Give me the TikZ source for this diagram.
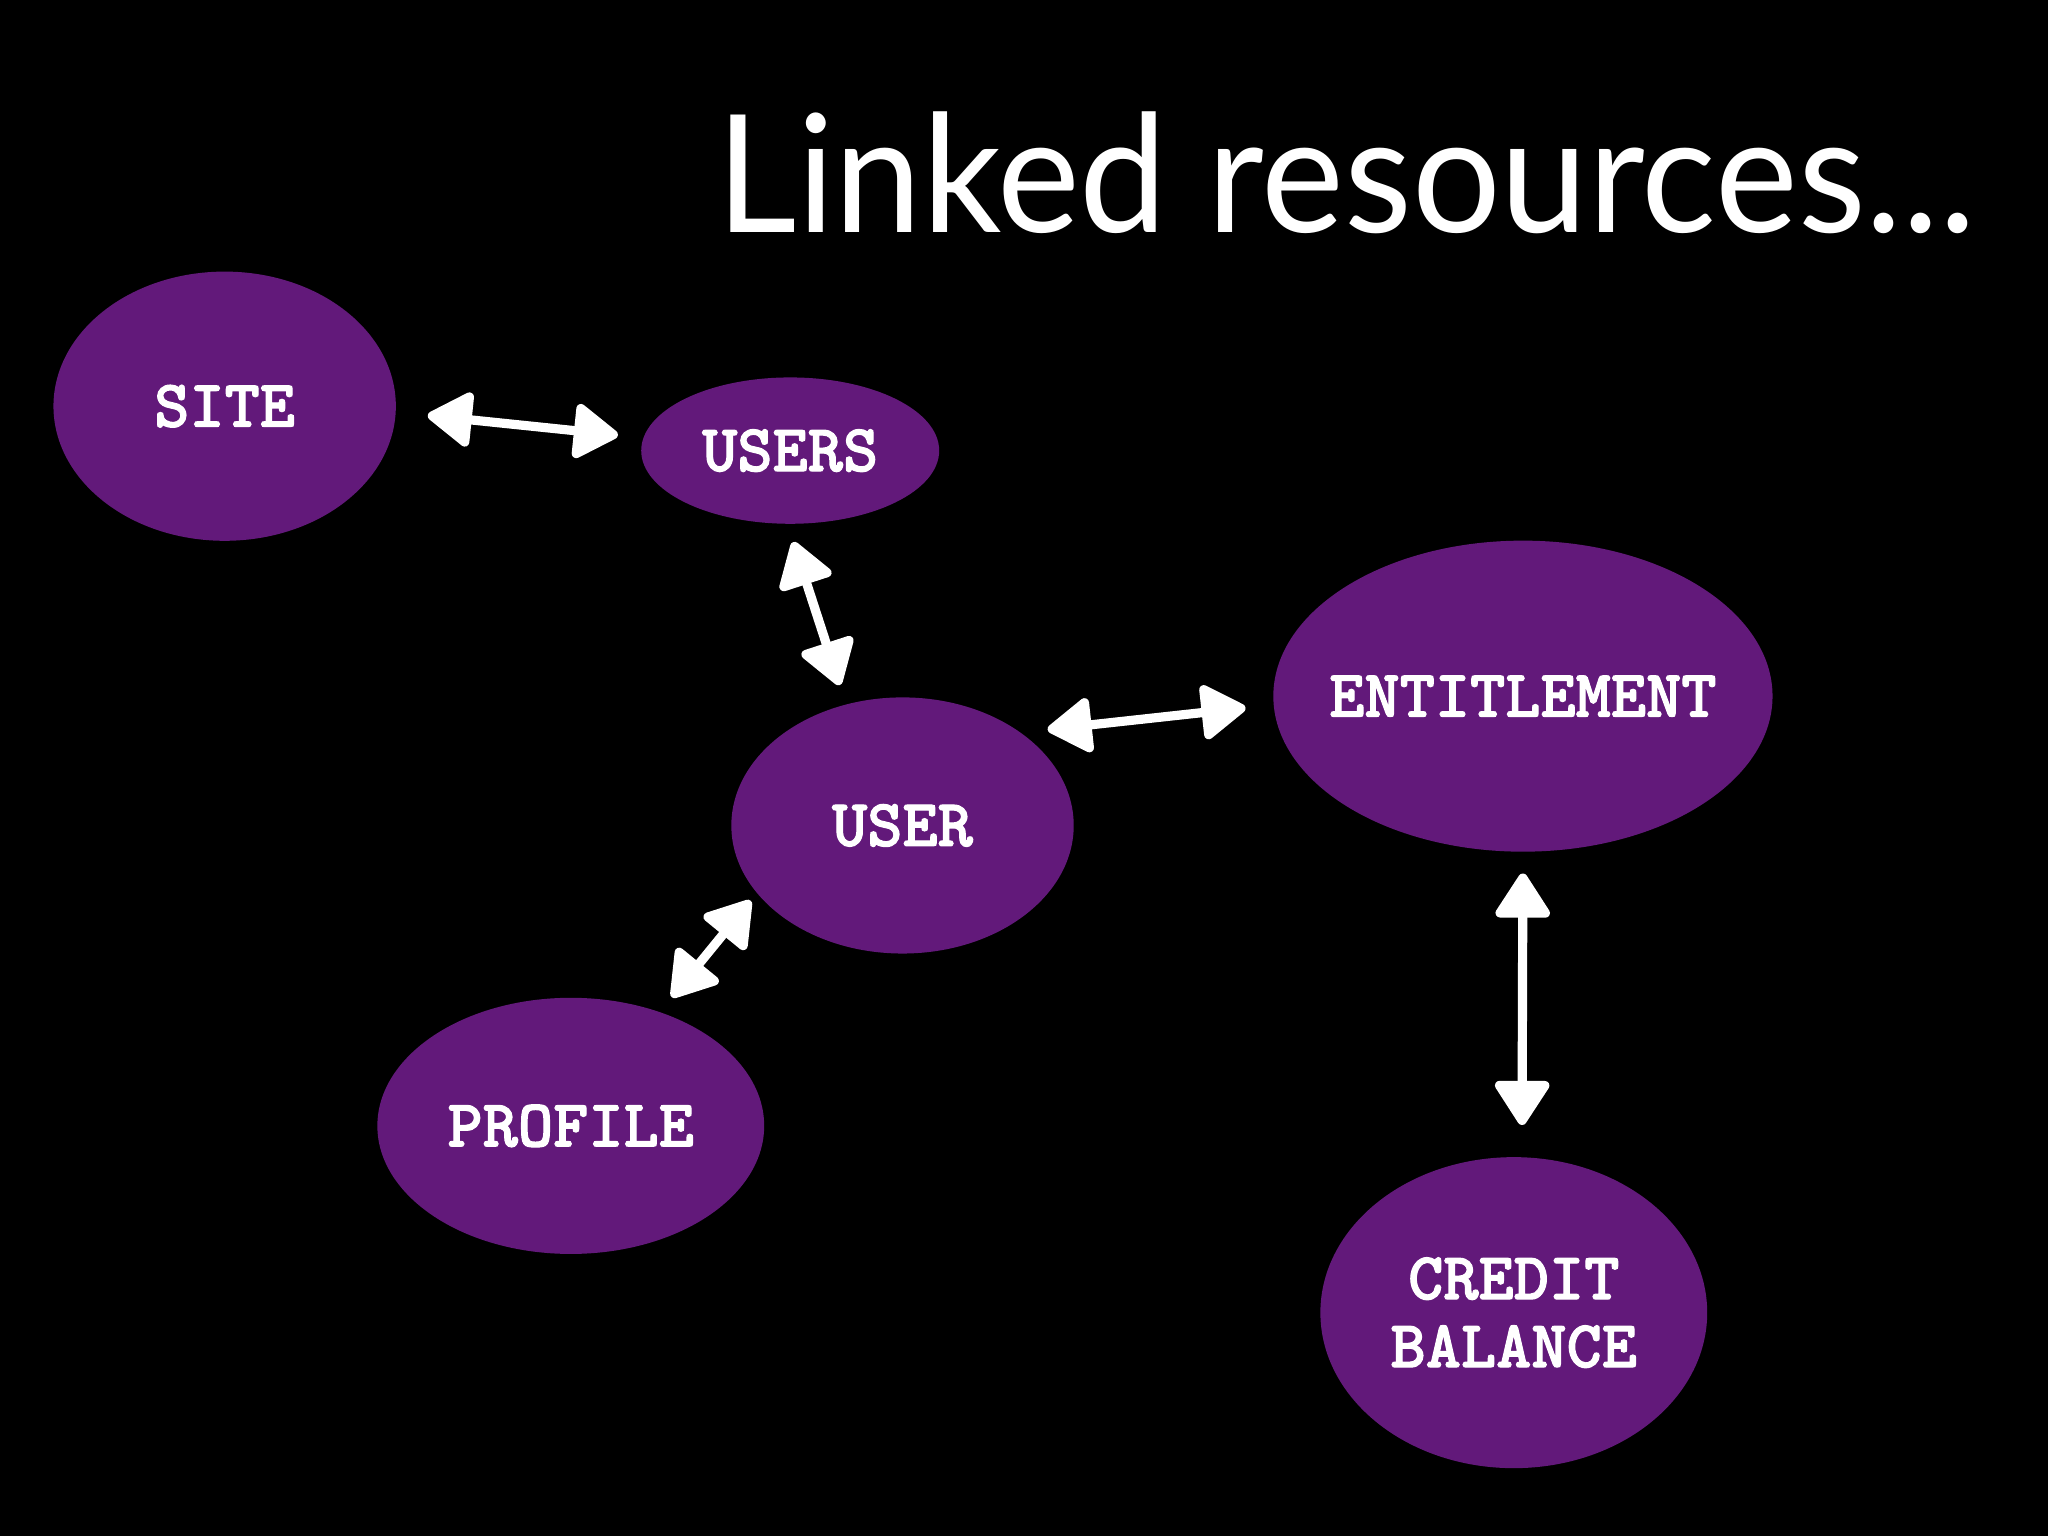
\documentclass[tikz,border=0pt]{standalone}
\usepackage{fontspec}
\setmainfont{Lato}
\newfontfamily\labelfont{lmmonolt10-bold.otf}[FakeBold=1.6]
\usetikzlibrary{shapes.geometric,arrows.meta}
\definecolor{plum}{HTML}{62197A}
\begin{document}
\begin{tikzpicture}[x=0.01cm,y=-0.01cm,
  res/.style={ellipse, fill=plum, inner sep=0pt},
  lbl/.style={text=white, inner sep=0pt, align=center,
    font=\labelfont\fontsize{14.6}{14.8}\selectfont},
  link/.style={white, line width=2pt,
    {Triangle[length=10.5pt,width=13pt,round]}-{Triangle[length=10.5pt,width=13pt,round]}}]
\fill[black] (0,0) rectangle (1568,1176);
\useasboundingbox (0,0) rectangle (1568,1176);

\node[anchor=base west, text=white, inner sep=0pt,
  font=\fontsize{35.7}{40}\selectfont] (title) at (548,178) {\scalebox{0.955}[1]{Linked resources...}};

\node[res, minimum width=2.62cm, minimum height=2.06cm, label={[lbl]center:SITE}] (site) at (172,311) {};
\node[res, minimum width=2.28cm, minimum height=1.12cm, label={[lbl]center:USERS}] (users) at (605,345) {};
\node[res, minimum width=2.62cm, minimum height=1.96cm, label={[lbl]center:USER}] (user) at (691,632) {};
\node[res, minimum width=3.82cm, minimum height=2.38cm, label={[lbl]center:ENTITLEMENT}] (ent) at (1166,533) {};
\node[res, minimum width=2.96cm, minimum height=1.96cm, label={[lbl]center:PROFILE}] (profile) at (437,862) {};
\node[res, minimum width=2.96cm, minimum height=2.38cm, label={[lbl]center:CREDIT\\BALANCE}] (credit) at (1159,1005) {};

\draw[link, shorten <=0.24cm, shorten >=0.19cm] (site.-2) -- (users.175);
\draw[link, shorten <=0.14cm, shorten >=0.15cm] (users.-92) -- (user.115);
\draw[link, shorten <=0.20cm, shorten >=0.21cm] (user.38) -- (ent.182);
\draw[link, shorten <=0.07cm, shorten >=0.14cm] (user.205) -- (profile.52);
\draw[link, shorten <=0.16cm, shorten >=0.24cm] (ent.-90) -- (credit.87);
\end{tikzpicture}
\end{document}
